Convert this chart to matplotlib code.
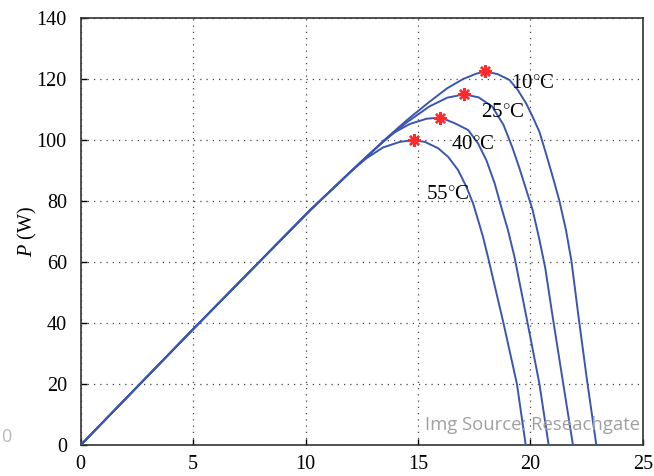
import matplotlib
matplotlib.use("Agg")
import matplotlib.pyplot as plt

plt.rcParams['font.family'] = ['Liberation Serif', 'DejaVu Serif']
plt.rcParams['mathtext.fontset'] = 'custom'
plt.rcParams['mathtext.rm'] = 'Liberation Serif'
plt.rcParams['mathtext.it'] = 'Liberation Serif:italic'

# P-V curves (V in volts, P in watts)
v_10 = [0, 5, 10.2, 12.4, 13.5, 14.5, 15.5, 16.3, 17.0, 17.6, 18.0, 18.55, 19.07, 19.44, 19.81,
        20.10, 20.40, 20.69, 20.99, 21.28, 21.58, 21.82, 22.14, 22.52, 22.93]
p_10 = [0, 38, 77, 92.4, 100.0, 106.5, 112.5, 117.0, 120.0, 121.8, 122.5, 121.6, 119.7, 116.4, 112.0,
        107.6, 102.7, 95.6, 88.0, 80.3, 70.5, 60.5, 42, 21, 0]

v_25 = [0, 5, 10.2, 12.4, 13.5, 14.5, 15.5, 16.3, 17.05, 17.7, 18.3, 18.8, 19.2, 19.5, 19.8,
        20.1, 20.38, 20.66, 21.0, 21.45, 21.89]
p_25 = [0, 38, 77, 92.4, 99.8, 105.8, 111.0, 113.9, 115.0, 114.0, 111.0, 105.0, 97.5, 91.0, 84.0,
        77.0, 68.0, 58.0, 41.5, 20.5, 0]

v_40 = [0, 5, 10.2, 12.4, 13.2, 13.9, 14.64, 15.38, 16.0, 16.64, 17.23, 17.67, 18.04, 18.41,
        18.70, 19.0, 19.29, 19.9, 20.4, 20.81]
p_40 = [0, 38, 77, 92.4, 97.8, 102.3, 105.3, 107.0, 107.4, 105.5, 103.3, 98.9, 93.4, 85.8,
        78.1, 70.5, 61.7, 39, 20, 0]

v_55 = [0, 5, 10.2, 12.0, 12.7, 13.45, 14.19, 14.8, 15.31, 15.90, 16.34, 16.78, 17.15, 17.45,
        17.67, 17.89, 18.11, 18.8, 19.4, 19.79]
p_55 = [0, 38, 77, 89.6, 94.0, 97.6, 99.4, 100.0, 99.4, 97.3, 94.5, 90.2, 84.7, 79.2,
        73.8, 68.3, 61.7, 40, 20, 0]

# maximum power points
mpp_v = [18.0, 17.05, 16.0, 14.8]
mpp_p = [122.5, 115.0, 107.4, 100.0]

labels = ['10$^{\\circ}$C', '25$^{\\circ}$C', '40$^{\\circ}$C', '55$^{\\circ}$C']
label_v = [19.13, 17.8, 16.47, 15.37]
label_p = [118.4, 108.9, 98.4, 82.3]

fig = plt.figure(figsize=(6.54, 4.76), dpi=100)
ax = fig.add_axes([0.1234, 0.065, 0.8596, 0.897])

line_c = '#3a56b0'
for v, p in [(v_10, p_10), (v_25, p_25), (v_40, p_40), (v_55, p_55)]:
    ax.plot(v, p, color=line_c, lw=1.4, zorder=3)

ax.plot(mpp_v, mpp_p, ls='none', marker=(8, 2, 0), ms=9, mew=1.7, color='#ff2a2a', zorder=4)

for t, x, y in zip(labels, label_v, label_p):
    ax.text(x, y, t, fontsize=15, va='center', ha='left', zorder=5)

ax.set_xlim(0, 25)
ax.set_ylim(0, 140)
ax.set_xticks([0, 5, 10, 15, 20, 25])
ax.set_yticks(range(0, 141, 20))
ax.tick_params(direction='in', labelsize=14.5, length=4, width=1)
ax.tick_params(axis='y', pad=10)
ax.tick_params(axis='x', pad=7)
ax.grid(True, linestyle=(0, (1, 4)), color='#444444', lw=0.9)
for s in ax.spines.values():
    s.set_linewidth(1.2)
    s.set_color('#333333')
ax.set_ylabel('$P$ (W)', fontsize=14.5, labelpad=-2)

# watermark
ax.text(0.995, 0.025, 'Img Source: Reseachgate', transform=ax.transAxes, ha='right',
        va='bottom', fontsize=13.3, color='#a0a0a0', family='Open Sans', zorder=6)
fig.text(0.002, 0.082, '0', ha='left', va='center', fontsize=13, color='#b8b8b8', family='Open Sans')

fig.savefig('out.png', dpi=100)
